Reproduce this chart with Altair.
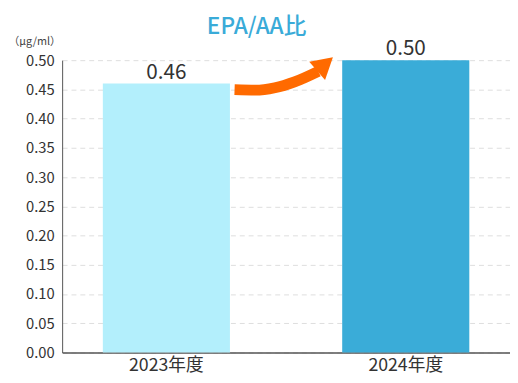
import altair as alt
import pandas as pd

years = ["2023年度", "2024年度"]
values = [0.46, 0.50]
labels = ["0.46", "0.50"]
bar_colors = ["#b3effc", "#3aacd8"]
y_ticks = [0, 0.05, 0.1, 0.15, 0.2, 0.25, 0.3, 0.35, 0.4, 0.45, 0.5]

# arrow path: x as fraction of plot width, y in chart units
arrow_x = [0.385, 0.431, 0.475, 0.519, 0.572]
arrow_y = [0.4495, 0.4487, 0.4529, 0.4630, 0.4810]
head_x = [0.587]
head_y = [0.4933]

FONT = "Noto Sans CJK JP"

bars_df = pd.DataFrame({"year": years, "value": values, "label": labels, "color": bar_colors})
arrow_df = pd.DataFrame({"ax": arrow_x, "ay": arrow_y, "order": list(range(len(arrow_x)))})
head_df = pd.DataFrame({"ax": head_x, "ay": head_y})

xaxis = alt.Axis(labelAngle=0, labelFontSize=18, labelColor="#333333", labelPadding=4,
                 labelFont=FONT, ticks=False, domainColor="#555555", domainWidth=1.5,
                 grid=False)
xscale = alt.Scale(paddingInner=0.469, paddingOuter=0.17)
yscale = alt.Scale(domain=[0, 0.5], nice=False, zero=True)
yaxis = alt.Axis(
    values=y_ticks,
    format=".2f",
    labelFont=FONT,
    labelFontSize=15,
    labelColor="#333333",
    labelPadding=8,
    labelOverlap=False,
    ticks=False,
    domainColor="#555555",
    gridColor="#dddddd",
    gridDash=[5, 4],
    titleAngle=0,
    titleAlign="left",
    titleBaseline="middle",
    titleX=-55,
    titleY=-19,
    titleFont=FONT,
    titleFontSize=11,
    titleFontWeight="normal",
    titleColor="#444444",
)
ytitle = "（μg/ml）"

bars = alt.Chart(bars_df).mark_bar().encode(
    x=alt.X("year:N", sort=years, title=None, scale=xscale, axis=xaxis),
    y=alt.Y("value:Q", scale=yscale, title=ytitle, axis=yaxis),
    color=alt.Color("color:N", scale=None),
)

text = alt.Chart(bars_df).mark_text(
    baseline="bottom", dy=-1, fontSize=21, color="#333333", font=FONT
).encode(
    x=alt.X("year:N", sort=years, title=None, scale=xscale, axis=xaxis),
    y=alt.Y("value:Q", scale=yscale, title=ytitle, axis=yaxis),
    text="label:N",
)

base = alt.layer(bars, text)

ax_scale = alt.Scale(domain=[0, 1], nice=False, zero=False)
arrow = alt.Chart(arrow_df).mark_line(
    color="#ff6a00", strokeWidth=11, strokeCap="butt", interpolate="monotone"
).encode(
    x=alt.X("ax:Q", scale=ax_scale, axis=None),
    y=alt.Y("ay:Q", scale=yscale, title=ytitle, axis=yaxis),
    order="order:Q",
)
head = alt.Chart(head_df).mark_point(
    shape="triangle-up", size=600, angle=49, filled=True, opacity=1, color="#ff6a00"
).encode(
    x=alt.X("ax:Q", scale=ax_scale, axis=None),
    y=alt.Y("ay:Q", scale=yscale, title=ytitle, axis=yaxis),
)
overlay = alt.layer(arrow, head)

chart = alt.layer(base, overlay).resolve_scale(x="independent").properties(
    width=455,
    height=297,
    autosize=alt.AutoSizeParams(type="none"),
    padding={"left": 55, "top": 50, "right": 0, "bottom": 28},
    title=alt.TitleParams(
        "EPA/AA比", fontSize=23, fontWeight=500, color="#3aabd8", font=FONT,
        anchor="middle", dx=-30, offset=-3,
    ),
).configure_view(stroke=None)

chart.save("out.html", embed_options={"renderer": "svg", "actions": False})
